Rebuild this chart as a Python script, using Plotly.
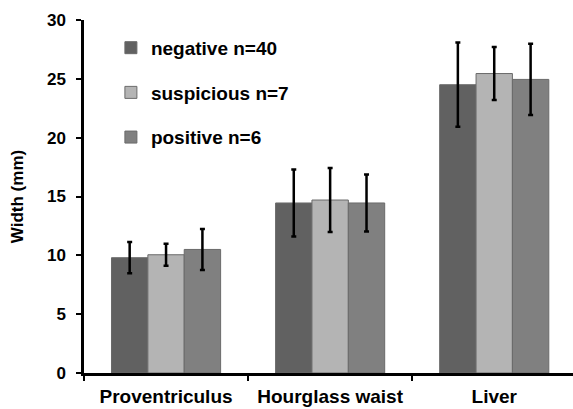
import plotly.graph_objects as go

categories = ["Proventriculus", "Hourglass waist", "Liver"]
series_names = ["negative n=40", "suspicious n=7", "positive n=6"]
negative = [9.8, 14.45, 24.5]
suspicious = [10.05, 14.7, 25.45]
positive = [10.5, 14.45, 24.95]
negative_err = [1.33, 2.84, 3.58]
suspicious_err = [0.94, 2.72, 2.25]
positive_err = [1.74, 2.42, 3.03]
colors = ["#616161", "#b4b4b4", "#808080"]
y_ticks = [0, 5, 10, 15, 20, 25, 30]

FONT = "Liberation Sans, Arial, sans-serif"

fig = go.Figure()
for name, vals, errs, col in zip(series_names, [negative, suspicious, positive],
                                 [negative_err, suspicious_err, positive_err], colors):
    fig.add_trace(go.Bar(
        x=categories, y=vals, name=name, legendgroup=name,
        marker=dict(color=col, line=dict(color="#6a6a6a", width=1)),
        error_y=dict(type="data", array=errs, visible=True, color="black",
                     thickness=2.5, width=2.5),
    ))

fig.update_layout(
    width=573, height=409,
    margin=dict(l=84, r=0, t=20, b=36),
    paper_bgcolor="white", plot_bgcolor="white",
    barmode="group", bargap=0.335, bargroupgap=0,
    font=dict(family=FONT, size=17, color="black", weight="bold"),
    showlegend=True,
    legend=dict(x=0.055, y=0.975, xanchor="left", yanchor="top",
                traceorder="grouped", tracegroupgap=17,
                font=dict(family=FONT, size=19, color="black", weight="bold"),
                bgcolor="rgba(0,0,0,0)", itemclick=False),
    xaxis=dict(range=[-0.5, 2.48], showline=True, linecolor="black", linewidth=2.5,
               ticks="outside", tickson="boundaries", ticklen=5, tickwidth=2,
               tickcolor="black", ticklabelstandoff=4, automargin=False,
               tickfont=dict(family=FONT, size=19, color="black", weight="bold"),
               showgrid=False, zeroline=False),
    yaxis=dict(range=[0, 30], tickvals=y_ticks, showline=True, linecolor="black",
               linewidth=2.5, ticks="outside", ticklen=5, tickwidth=2, tickcolor="black",
               ticklabelstandoff=7, showgrid=False, zeroline=False, automargin=False,
               tickfont=dict(family=FONT, size=17, color="black", weight="bold"),
               title=dict(text="Width (mm)", standoff=19,
                          font=dict(family=FONT, size=17, color="black", weight="bold"))),
)

html = fig.to_html(full_html=True, include_plotlyjs=True,
                   config={"displayModeBar": False})
html = html.replace("<body>", "<body style=\"margin:0;padding:0;overflow:hidden\">", 1)
with open("out.html", "w", encoding="utf-8") as f:
    f.write(html)
